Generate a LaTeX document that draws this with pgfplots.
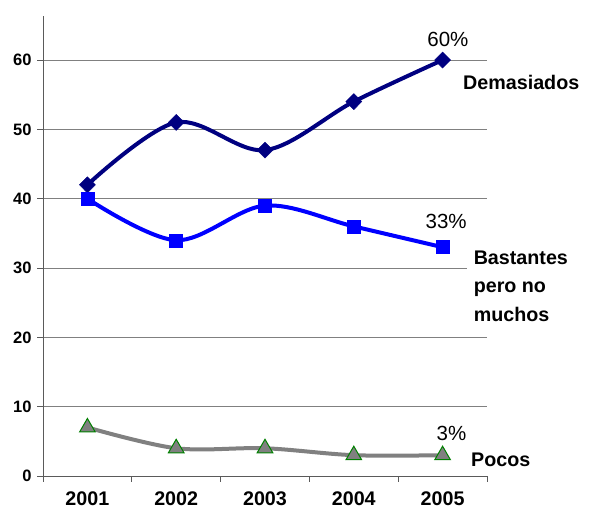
\documentclass[border=0pt]{standalone}
\usepackage{fontspec}
\setmainfont{Liberation Sans}
\usepackage{pgfplots}
\pgfplotsset{compat=1.18}

\definecolor{navyline}{RGB}{0,0,128}
\definecolor{blueline}{RGB}{0,0,255}
\definecolor{grayline}{RGB}{128,128,128}
\definecolor{trigreen}{RGB}{0,128,0}
\definecolor{axisgray}{RGB}{90,90,90}

\begin{document}
\begin{tikzpicture}[x=1pt,y=1pt]
\begin{axis}[
    at={(43pt,42pt)}, anchor=south west,
    scale only axis, width=444pt, height=460pt,
    xmin=0.5, xmax=5.5, ymin=0, ymax=66.35,
    clip=false,
    axis x line*=bottom, axis y line*=left,
    axis line style={draw=axisgray, line width=0.8pt},
    xtick={1,2,3,4,5},
    xticklabels={2001,2002,2003,2004,2005},
    xtick style={draw=none},
    extra x ticks={0.5,1.5,2.5,3.5,4.5,5.5},
    extra x tick labels={},
    extra x tick style={xtick style={draw=axisgray, line width=0.8pt}},
    ytick={0,10,20,30,40,50,60},
    ytick style={draw=axisgray, line width=0.8pt},
    tick align=outside, major tick length=6pt,
    ymajorgrids=true,
    grid style={draw=grayline, line width=0.8pt},
    /pgf/number format/assume math mode=true,
    xticklabel style={font=\bfseries\fontsize{19.7}{23}\selectfont, yshift=-6pt},
    yticklabel style={font=\bfseries\fontsize{16.5}{19}\selectfont, xshift=-2pt},
]
% Demasiados
\addplot[navyline, line width=4pt, smooth, tension=0.55,
    mark=diamond*, mark size=8pt,
    mark options={solid, xscale=1.33, fill=navyline, draw=navyline, line width=0.5pt}]
  coordinates {(1,42) (2,51) (3,47) (4,54) (5,60)};
% Bastantes pero no muchos
\addplot[blueline, line width=4pt, smooth, tension=0.55,
    mark=square*, mark size=6.5pt,
    mark options={solid, fill=blueline, draw=blueline, line width=0.5pt}]
  coordinates {(1,40) (2,34) (3,39) (4,36) (5,33)};
% Pocos
\addplot[grayline, line width=4pt, smooth, tension=0.55,
    mark=triangle*, mark size=9pt,
    mark options={solid, fill=grayline, draw=trigreen, line width=1pt}]
  coordinates {(1,7) (2,4) (3,4) (4,3) (5,3)};

\node[font=\fontsize{20.5}{24}\selectfont] at (axis cs:5.06,62.9) {60\%};
\node[font=\fontsize{20.5}{24}\selectfont] at (axis cs:5.04,36.65) {33\%};
\node[font=\fontsize{20.5}{24}\selectfont] at (axis cs:5.10,6.2) {3\%};
\node[anchor=west, inner sep=0pt, font=\bfseries\fontsize{19.7}{23}\selectfont]
  at (axis cs:5.23,56.7) {Demasiados};
\node[anchor=west, fill=white, inner xsep=7pt, inner ysep=2pt, align=left,
  font=\bfseries\fontsize{19.7}{28.5}\selectfont]
  at (axis cs:5.27,27.4) {Bastantes\\pero no\\muchos};
\node[anchor=west, inner sep=0pt, font=\bfseries\fontsize{19.7}{23}\selectfont]
  at (axis cs:5.32,2.3) {Pocos};
\end{axis}
\pgfresetboundingbox
\path[use as bounding box] (0,0) rectangle (590pt,518pt);
\end{tikzpicture}
\end{document}
